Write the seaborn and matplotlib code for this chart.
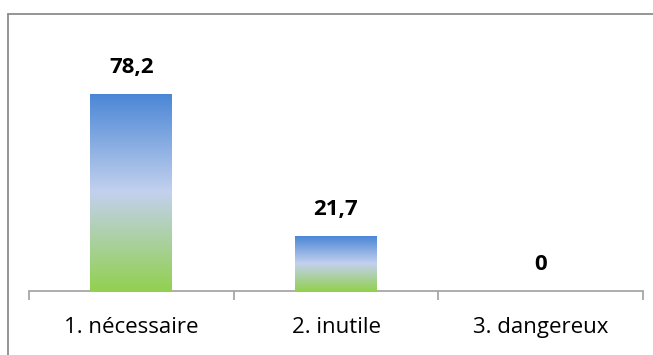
import numpy as np
import pandas as pd
import matplotlib
matplotlib.use("Agg")
import matplotlib.pyplot as plt
from matplotlib.colors import LinearSegmentedColormap
from matplotlib.lines import Line2D
import seaborn as sns

categories = ["1. nécessaire", "2. inutile", "3. dangereux"]
values = [78.2, 21.7, 0.0]
value_labels = ["78,2", "21,7", "0"]

sns.set_theme(style="white")
plt.rcParams['font.family'] = ['Open Sans', 'DejaVu Sans']

fig = plt.figure(figsize=(6.53, 3.55), dpi=100)
ax = fig.add_axes([29/653, 64/355, 614/653, 252/355])

df = pd.DataFrame({"cat": categories, "val": values})
sns.barplot(data=df, x="cat", y="val", ax=ax, width=0.4, color="#4F86D4")

cmap = LinearSegmentedColormap.from_list("g", ["#92D050", "#C3D1EE", "#4A86D6"])
grad = np.linspace(0, 1, 256).reshape(-1, 1)
for p in list(ax.patches):
    x0, y0 = p.get_x(), p.get_y()
    w, h = p.get_width(), p.get_height()
    if h <= 0:
        p.set_visible(False)
        continue
    im = ax.imshow(grad, cmap=cmap, aspect="auto", origin="lower",
                   extent=[x0, x0 + w, y0, y0 + h], zorder=3)
    im.set_clip_path(p)
    p.set_facecolor("none")
    p.set_edgecolor("none")
ax.set_xlim(-0.5, 2.5)
ax.set_ylim(0, 100)

for i, (v, lab) in enumerate(zip(values, value_labels)):
    ax.annotate(lab, (i, v), xytext=(0, 19), textcoords="offset points",
                ha="center", va="center", fontsize=16, fontweight="bold",
                color="black", clip_on=False)

for s in ["top", "right", "left"]:
    ax.spines[s].set_visible(False)
ax.spines["bottom"].set_color("#A0A0A0")
ax.spines["bottom"].set_linewidth(1.2)
ax.set_yticks([])
ax.set_xlabel("")
ax.set_ylabel("")
ax.set_xticks(range(len(categories)))
ax.set_xticklabels(categories, fontsize=16, color="black")
ax.tick_params(axis="x", which="major", bottom=True, length=0, pad=19)
ax.set_xticks([-0.5, 0.5, 1.5, 2.5], minor=True)
ax.tick_params(axis="x", which="minor", bottom=True, length=6.5, width=1.2,
               color="#A0A0A0", direction="out")

# chart border (cropped: only top and left visible)
fig.add_artist(Line2D([8/653, 8/653], [0, 1 - 14/355], transform=fig.transFigure,
                      color="#8C8C8C", lw=1.3))
fig.add_artist(Line2D([8/653, 1], [1 - 14/355, 1 - 14/355], transform=fig.transFigure,
                      color="#8C8C8C", lw=1.3))

fig.savefig("out.png", dpi=100)
